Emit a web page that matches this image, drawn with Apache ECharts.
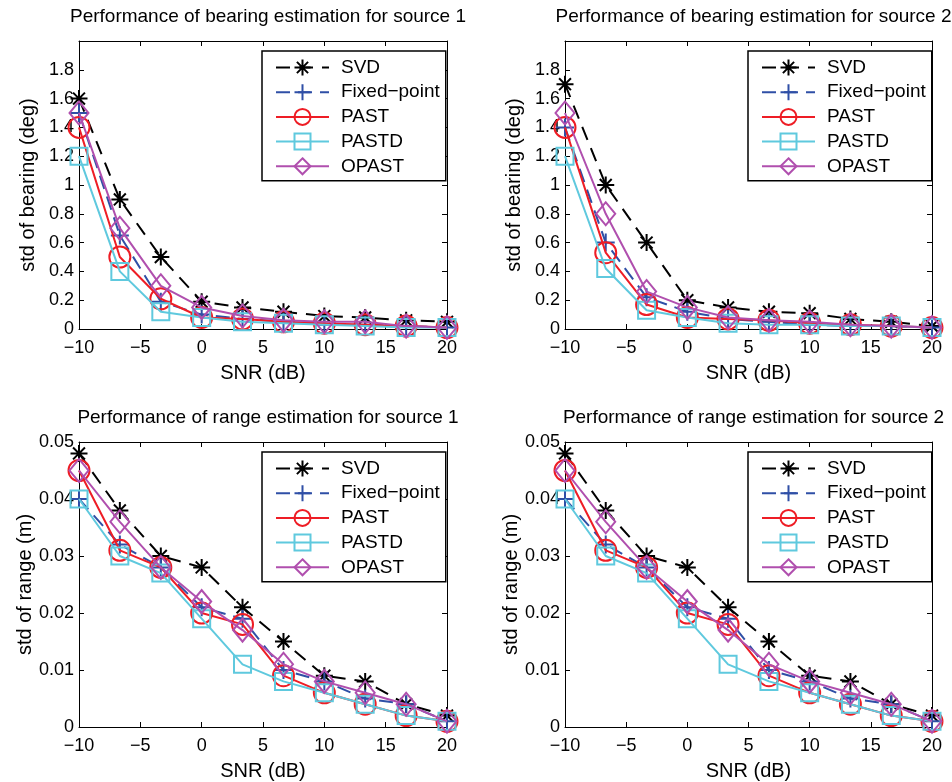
<!DOCTYPE html>
<html>
<head>
<meta charset="utf-8">
<script src="https://cdn.jsdelivr.net/npm/echarts@6/dist/echarts.min.js"></script>
<style>
  html, body { margin: 0; padding: 0; background: #fff; }
  #chart { width: 952px; height: 782px; }
</style>
</head>
<body>
<div id="chart"></div>
<script>
// SNR points (dB)
const snr = [-10, -6.67, -3.33, 0, 3.33, 6.67, 10, 13.33, 16.67, 20];
const seriesNames = ['SVD', 'Fixed\u2212point', 'PAST', 'PASTD', 'OPAST'];

// std of bearing (deg), source 1
const bearing1Svd   = [1.6, 0.9, 0.5, 0.19, 0.15, 0.12, 0.09, 0.08, 0.06, 0.05];
const bearing1Fixed = [1.5, 0.65, 0.19, 0.1, 0.07, 0.05, 0.03, 0.03, 0.02, 0.01];
const bearing1Past  = [1.4, 0.5, 0.21, 0.08, 0.07, 0.05, 0.04, 0.03, 0.02, 0.01];
const bearing1Pastd = [1.2, 0.4, 0.12, 0.08, 0.05, 0.04, 0.03, 0.02, 0.01, 0.01];
const bearing1Opast = [1.5, 0.7, 0.3, 0.15, 0.09, 0.06, 0.05, 0.05, 0.02, 0.01];

// std of bearing (deg), source 2
const bearing2Svd   = [1.7, 1.0, 0.6, 0.2, 0.15, 0.12, 0.11, 0.07, 0.05, 0.02];
const bearing2Fixed = [1.4, 0.6, 0.22, 0.12, 0.07, 0.05, 0.03, 0.02, 0.02, 0.01];
const bearing2Past  = [1.4, 0.53, 0.17, 0.08, 0.07, 0.06, 0.04, 0.03, 0.02, 0.01];
const bearing2Pastd = [1.2, 0.42, 0.13, 0.08, 0.04, 0.03, 0.03, 0.02, 0.02, 0.01];
const bearing2Opast = [1.5, 0.8, 0.26, 0.15, 0.08, 0.06, 0.05, 0.03, 0.02, 0.01];

// std of range (m), source 1
const range1Svd   = [0.048, 0.038, 0.030, 0.028, 0.021, 0.015, 0.009, 0.008, 0.004, 0.002];
const range1Fixed = [0.040, 0.032, 0.028, 0.021, 0.019, 0.010, 0.008, 0.005, 0.004, 0.001];
const range1Past  = [0.045, 0.031, 0.028, 0.020, 0.018, 0.009, 0.006, 0.004, 0.002, 0.001];
const range1Pastd = [0.040, 0.030, 0.027, 0.019, 0.011, 0.008, 0.006, 0.004, 0.002, 0.001];
const range1Opast = [0.045, 0.036, 0.028, 0.022, 0.017, 0.011, 0.008, 0.006, 0.004, 0.001];

// std of range (m), source 2
const range2Svd   = [0.048, 0.038, 0.030, 0.028, 0.021, 0.015, 0.009, 0.008, 0.004, 0.002];
const range2Fixed = [0.040, 0.032, 0.028, 0.021, 0.019, 0.010, 0.008, 0.005, 0.004, 0.001];
const range2Past  = [0.045, 0.031, 0.028, 0.020, 0.018, 0.009, 0.006, 0.004, 0.002, 0.001];
const range2Pastd = [0.040, 0.030, 0.027, 0.019, 0.011, 0.008, 0.006, 0.004, 0.002, 0.001];
const range2Opast = [0.045, 0.036, 0.028, 0.022, 0.017, 0.011, 0.008, 0.006, 0.004, 0.001];

const FONT = 'Liberation Sans, Arial, sans-serif';

// marker / line style for each method
const styles = [
  { color: '#000000', symbol: 'path://M0,10L20,10M10,0L10,20M3,3L17,17M17,3L3,17', size: 17, dash: [14, 9] },
  { color: '#2f4fa6', symbol: 'path://M0,10L20,10M10,0L10,20', size: 18, dash: [14, 8] },
  { color: '#ee1d25', symbol: 'circle', size: 21, dash: 'solid' },
  { color: '#5fc9de', symbol: 'rect', size: 17, dash: 'solid' },
  { color: '#b04fae', symbol: 'diamond', size: [19, 23], dash: 'solid' }
];

const grids = [
  { left: 79, top: 41, width: 368, height: 288 },
  { left: 565, top: 41, width: 367, height: 288 },
  { left: 79, top: 442, width: 368, height: 289 },
  { left: 565, top: 442, width: 367, height: 289 }
];

const titles = [
  'Performance of bearing estimation for source 1',
  'Performance of bearing estimation for source 2',
  'Performance of range estimation for source 1',
  'Performance of range estimation for source 2'
];

const panelData = [
  [bearing1Svd, bearing1Fixed, bearing1Past, bearing1Pastd, bearing1Opast],
  [bearing2Svd, bearing2Fixed, bearing2Past, bearing2Pastd, bearing2Opast],
  [range1Svd, range1Fixed, range1Past, range1Pastd, range1Opast],
  [range2Svd, range2Fixed, range2Past, range2Pastd, range2Opast]
];

const axisColor = '#000';
const tickLabel = { color: '#000', fontSize: 18, fontFamily: FONT };
const nameStyle = { color: '#000', fontSize: 20, fontFamily: FONT };

function minus(v) {
  return String(v).replace('-', '\u2212');
}

let xAxes = [], yAxes = [], series = [], legends = [], titleList = [];

grids.forEach(function (g, i) {
  const isBearing = i < 2;
  const yMax = isBearing ? 2 : 0.05;
  const yStep = isBearing ? 0.2 : 0.01;
  const line = { onZero: false, lineStyle: { color: axisColor, width: 1 } };
  const tick = { show: true, inside: true, length: 5, lineStyle: { color: axisColor } };

  // bottom + top x axes
  xAxes.push({
    type: 'value', gridIndex: i, min: -10, max: 20, interval: 5,
    name: 'SNR (dB)', nameLocation: 'middle', nameGap: 34,
    nameTextStyle: nameStyle,
    axisLine: line,
    axisTick: tick,
    axisLabel: Object.assign({ margin: 10, formatter: minus }, tickLabel),
    splitLine: { show: false }
  });
  xAxes.push({
    type: 'value', gridIndex: i, position: 'top', min: -10, max: 20, interval: 5,
    axisLine: line,
    axisTick: tick,
    axisLabel: { show: false },
    splitLine: { show: false }
  });
  // left + right y axes
  yAxes.push({
    type: 'value', gridIndex: i, min: 0, max: yMax, interval: yStep,
    name: isBearing ? 'std of bearing (deg)' : 'std of range (m)',
    nameLocation: 'middle', nameGap: 41,
    nameTextStyle: nameStyle,
    axisLine: Object.assign({ show: true }, line),
    axisTick: tick,
    axisLabel: Object.assign({
      margin: 5,
      formatter: function (v) {
        if (isBearing && v >= 2) return '';
        return String(+v.toFixed(3));
      }
    }, tickLabel),
    splitLine: { show: false }
  });
  yAxes.push({
    type: 'value', gridIndex: i, position: 'right', min: 0, max: yMax, interval: yStep,
    axisLine: Object.assign({ show: true }, line),
    axisTick: tick,
    axisLabel: { show: false },
    splitLine: { show: false }
  });

  titleList.push({
    text: titles[i],
    left: g.left + g.width / 2, top: i < 2 ? 2 : 403,
    textAlign: 'center',
    textStyle: { color: '#000', fontSize: 19, fontWeight: 'normal', fontFamily: FONT }
  });

  legends.push({
    data: seriesNames,
    orient: 'vertical',
    left: g.left + 183, top: g.top + 10,
    itemWidth: 53, itemHeight: 20, itemGap: 5.7,
    padding: [7, 6, 5, 13],
    backgroundColor: '#fff',
    borderColor: '#000', borderWidth: 1.5, borderRadius: 0,
    textStyle: { color: '#000', fontSize: 19, fontFamily: FONT, padding: [0, 0, 0, 7] },
    selectedMode: false
  });

  panelData[i].forEach(function (vals, k) {
    const s = styles[k];
    series.push({
      name: seriesNames[k],
      type: 'line',
      xAxisIndex: i * 2,
      yAxisIndex: i * 2,
      data: snr.map(function (x, j) { return [x, vals[j]]; }),
      symbol: s.symbol,
      symbolSize: s.size,
      showAllSymbol: true,
      animation: false,
      lineStyle: { color: s.color, width: 2, type: s.dash },
      itemStyle: { color: 'transparent', borderColor: s.color, borderWidth: 2 },
      emphasis: { disabled: true },
      z: 2 + k
    });
  });
});

const chart = echarts.init(document.getElementById('chart'), null, { renderer: 'canvas' });
chart.setOption({
  backgroundColor: '#fff',
  animation: false,
  title: titleList,
  grid: grids,
  xAxis: xAxes,
  yAxis: yAxes,
  legend: legends,
  series: series
});
</script>
</body>
</html>
